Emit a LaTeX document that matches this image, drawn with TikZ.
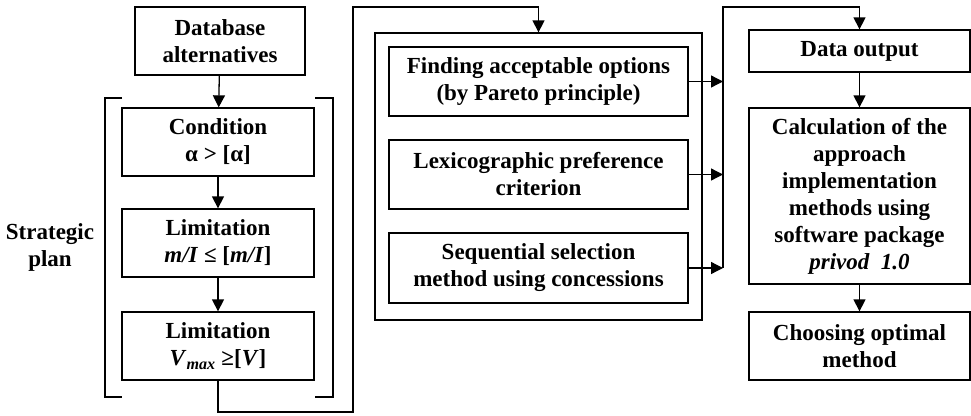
\documentclass[tikz,border=0pt]{standalone}
\usepackage{fontspec}
\setmainfont{Liberation Serif}
\usetikzlibrary{arrows.meta}
\tikzset{
 blk/.style={draw, line width=1.3pt, align=center, inner sep=1pt,
  font=\fontsize{23}{27}\selectfont\bfseries},
 link/.style={line width=1.3pt, -{Triangle[length=12pt,width=12pt]}},
 wire/.style={line width=1.3pt}
}
\begin{document}
\begin{tikzpicture}[x=1pt,y=-1pt]
   \useasboundingbox (0,0) rectangle (971,415);
   % left column
   \node (db)   [blk, minimum width=170, minimum height=68] at (220,41)  {Database\\alternatives};
   \node (cond) [blk, minimum width=192, minimum height=68] at (218,142) {Condition\\α > [α]};
   \node (lim1) [blk, minimum width=192, minimum height=68] at (218,243) {Limitation\\\textit{m/I} ≤ [\textit{m/I}]};
   \node (lim2) [blk, minimum width=192, minimum height=68] at (218,346) {Limitation\\\textit{V}\textsubscript{\textit{max}} ≥[\textit{V}]};
   \draw[wire] (122,98) -- (105,98) -- (105,397) -- (122,397);
   \draw[wire] (315,98) -- (333,98) -- (333,397) -- (315,397);
   \node (sp) [font=\fontsize{23}{27}\selectfont\bfseries, align=center] at (50,247) {Strategic\\plan};
   \draw[link] (db) -- (cond);
   \draw[link] (cond) -- (lim1);
   \draw[link] (lim1) -- (lim2);
   % middle group
   \node (grp)    [draw, wire, minimum width=327, minimum height=287] at (538.5,176.5) {};
   \node (pareto) [blk, minimum width=299, minimum height=69] at (538.5,81.5) {Finding acceptable options\\(by Pareto principle)};
   \node (lex)    [blk, minimum width=299, minimum height=69] at (538.5,174.5) {Lexicographic preference\\criterion};
   \node (seq)    [blk, minimum width=299, minimum height=70] at (538.5,268) {Sequential selection\\method using concessions};
   \coordinate (c1) at (353,412);
   \coordinate (c2) at (353,7);
   \draw[link] (lim2.south) |- (c1) -- (c2) -| (grp.north);
   % right column
   \node (out)    [blk, minimum width=221, minimum height=42] at (859.5,51) {Data output};
   \node (calc)   [blk, minimum width=221, minimum height=176] at (859.5,196) {Calculation of the\\approach\\implementation\\methods using\\software package\\\textit{privod\ \ 1.0}};
   \node (choose) [blk, minimum width=221, minimum height=68] at (859.5,346) {Choosing optimal\\method};
   \coordinate (bus) at (723,7);
   \draw[wire] (seq.east -| bus) -- (bus) -| (out.north);
   \draw[link] (bus) -| (out.north);
   \draw[link] (pareto.east) -- (pareto.east -| bus);
   \draw[link] (lex.east) -- (lex.east -| bus);
   \draw[link] (seq.east) -- (seq.east -| bus);
   \draw[link] (out) -- (calc);
   \draw[link] (calc) -- (choose);
\end{tikzpicture}
\end{document}
